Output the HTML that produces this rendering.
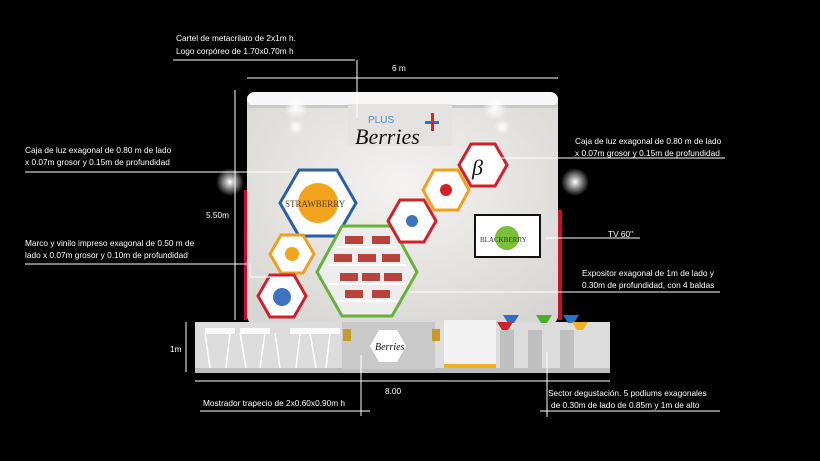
<!DOCTYPE html>
<html><head><meta charset="utf-8"><style>
body{margin:0;background:#000;width:820px;height:461px;overflow:hidden}
svg{display:block}
text{font-family:"Liberation Sans",sans-serif;fill:#fff;font-size:8.3px}
</style></head><body>
<svg width="820" height="461" viewBox="0 0 820 461">
<defs>
<radialGradient id="wall" cx="0.5" cy="0.4" r="0.7"><stop offset="0" stop-color="#f4f3f1"/><stop offset="1" stop-color="#d8d6d3"/></radialGradient>
<radialGradient id="lamp"><stop offset="0" stop-color="#fff"/><stop offset="1" stop-color="#fff" stop-opacity="0"/></radialGradient>
</defs>
<!-- wall -->
<rect x="247" y="92" width="311" height="232" rx="8" fill="url(#wall)"/>
<rect x="247" y="92" width="311" height="14" rx="8" fill="#f7f7f7"/>
<rect x="247" y="105" width="311" height="3" fill="#c9c9c9"/>
<rect x="244" y="190" width="3" height="130" fill="#c8102e"/>
<rect x="558" y="210" width="4" height="110" fill="#c8102e"/>
<g fill="url(#lamp)">
<circle cx="296" cy="108" r="12"/><circle cx="495" cy="108" r="12"/><circle cx="296" cy="127" r="8"/><circle cx="502" cy="127" r="8"/>
<circle cx="230" cy="182" r="14"/><circle cx="575" cy="182" r="14"/>
</g>
<rect x="348" y="104" width="104" height="42" fill="#e4e3e1"/>
<text x="368" y="123" style="fill:#4a8bc9;font-size:10px">PLUS</text>
<text x="355" y="144" style="fill:#111;font-size:22px;font-style:italic;font-family:'Liberation Serif',serif">Berries</text>
<rect x="425" y="121" width="14" height="3" fill="#2a6fc9"/><rect x="431" y="113" width="3" height="18" fill="#d22"/>
<!-- hexes -->
<g stroke-width="3">
<polygon points="280,203 299,170 337,170 356,203 337,236 299,236" fill="#fff" stroke="#2a5fa8"/>
<circle cx="318" cy="203" r="20" fill="#f2a51c" stroke="none"/>
<text x="285" y="207" style="fill:#5a3a1a;font-size:9px;font-family:'Liberation Serif',serif">STRAWBERRY</text>
<polygon points="270,254 281,235 303,235 314,254 303,273 281,273" fill="#fff" stroke="#f0a020"/>
<circle cx="292" cy="254" r="7" fill="#f2a51c" stroke="none"/>
<polygon points="258,296 270,275 294,275 306,296 294,317 270,317" fill="#fff" stroke="#d0202a"/>
<circle cx="282" cy="297" r="9" fill="#3c74c0" stroke="none"/>
<polygon points="317,272 342,226 392,226 417,272 392,316 342,316" fill="#ededed" stroke="#6ab03c"/>
<polygon points="459,165 471,144 495,144 507,165 495,186 471,186" fill="#fff" stroke="#d0202a"/>
<text x="472" y="175" style="fill:#111;font-size:22px;font-style:italic;font-family:'Liberation Serif',serif">β</text>
<polygon points="423,190 434,170 458,170 469,190 458,210 434,210" fill="#fff" stroke="#f0a020"/>
<circle cx="446" cy="190" r="6" fill="#d0202a" stroke="none"/>
<polygon points="388,221 400,200 424,200 436,221 424,242 400,242" fill="#fff" stroke="#d0202a"/>
<circle cx="412" cy="221" r="6" fill="#3c74c0" stroke="none"/>
</g>
<g fill="#fff"><rect x="337" y="246" width="60" height="2"/><rect x="328" y="264" width="78" height="2"/><rect x="328" y="283" width="78" height="2"/><rect x="337" y="300" width="60" height="2"/></g>
<g fill="#b8433d"><rect x="345" y="236" width="18" height="8"/><rect x="372" y="236" width="18" height="8"/><rect x="334" y="254" width="18" height="8"/><rect x="358" y="254" width="18" height="8"/><rect x="382" y="254" width="18" height="8"/><rect x="340" y="273" width="18" height="8"/><rect x="362" y="273" width="18" height="8"/><rect x="384" y="273" width="18" height="8"/><rect x="345" y="290" width="18" height="8"/><rect x="372" y="290" width="18" height="8"/></g>
<rect x="474" y="214" width="67" height="44" fill="#111"/><rect x="476" y="216" width="63" height="40" fill="#fff"/>
<circle cx="507" cy="238" r="12" fill="#7bbf3a"/>
<text x="480" y="242" style="fill:#333;font-size:7px;font-family:'Liberation Serif',serif">BLACKBERRY</text>
<!-- floor -->
<rect x="195" y="322" width="415" height="50" fill="#dcdcdc"/>
<rect x="195" y="368" width="415" height="5" fill="#bdbdbd"/>
<rect x="342" y="322" width="93" height="47" fill="#c9c9c9"/>
<polygon points="370,346 379,330 397,330 406,346 397,362 379,362" fill="#fff"/>
<text x="375" y="350" style="fill:#111;font-size:10px;font-style:italic;font-family:'Liberation Serif',serif">Berries</text>
<g fill="#c89a2c"><rect x="343" y="329" width="8" height="12"/><rect x="432" y="329" width="8" height="12"/></g>
<rect x="444" y="320" width="52" height="48" fill="#f2f2f2"/>
<rect x="444" y="364" width="52" height="4" fill="#f0b020"/>
<g fill="#bfbfbf"><rect x="500" y="330" width="14" height="38"/><rect x="528" y="330" width="14" height="38"/><rect x="560" y="330" width="14" height="38"/></g>
<polygon points="503,315 519,315 514,323 508,323" fill="#2a6fc9"/>
<polygon points="536,315 552,315 547,323 541,323" fill="#4caf2a"/>
<polygon points="563,315 579,315 574,323 568,323" fill="#2a6fc9"/>
<polygon points="497,322 513,322 508,330 502,330" fill="#d0202a"/>
<polygon points="572,322 588,322 583,330 577,330" fill="#f0b020"/>
<g stroke="#fff" stroke-width="1.5" fill="none"><path d="M205 333 L210 368 M230 333 L226 368 M240 333 L246 368 M265 333 L260 368 M275 333 L280 368 M300 333 L296 368 M310 333 L316 368 M330 333 L326 368"/></g>
<g fill="#fafafa"><rect x="205" y="328" width="30" height="6"/><rect x="240" y="328" width="30" height="6"/><rect x="290" y="328" width="30" height="6"/><rect x="315" y="328" width="25" height="6"/></g>
<!-- dimension lines -->
<g stroke="#fff" stroke-width="1" fill="none">
<path d="M173 60 H355 M357 60 V118"/>
<path d="M247 78 H558"/>
<path d="M235 90 V320"/>
<path d="M25 172 H290"/>
<path d="M25 264 H250 M250 264 V277 H277"/>
<path d="M500 158 H725"/>
<path d="M545 238 H640"/>
<path d="M410 292 H720"/>
<path d="M186 322 V372"/>
<path d="M195 381 H610"/>
<path d="M200 411 H370 M361 355 V416"/>
<path d="M540 411 H720 M547 352 V417"/>
</g>
<text x="176" y="41">Cartel de metacrilato de 2x1m h.</text>
<text x="176" y="54">Logo corpóreo de 1.70x0.70m h</text>
<text x="392" y="71">6 m</text>
<text x="25" y="153">Caja de luz exagonal de 0.80 m de lado</text>
<text x="25" y="165">x 0.07m grosor y 0.15m de profundidad</text>
<text x="206" y="218">5.50m</text>
<text x="25" y="246">Marco y vinilo impreso exagonal de 0.50 m de</text>
<text x="25" y="258">lado x 0.07m grosor y 0.10m de profundidad</text>
<text x="575" y="144">Caja de luz exagonal de 0.80 m de lado</text>
<text x="575" y="156">x 0.07m grosor y 0.15m de profundidad</text>
<text x="608" y="237">TV 60"</text>
<text x="582" y="276">Expositor exagonal de 1m de lado y</text>
<text x="582" y="288">0.30m de profundidad, con 4 baldas</text>
<text x="170" y="352">1m</text>
<text x="385" y="394">8.00</text>
<text x="203" y="406">Mostrador trapecio de 2x0.60x0.90m h</text>
<text x="548" y="396">Sector degustación. 5 podiums exagonales</text>
<text x="551" y="408">de 0.30m de lado de 0.85m y 1m de alto</text>
</svg>
</body></html>
